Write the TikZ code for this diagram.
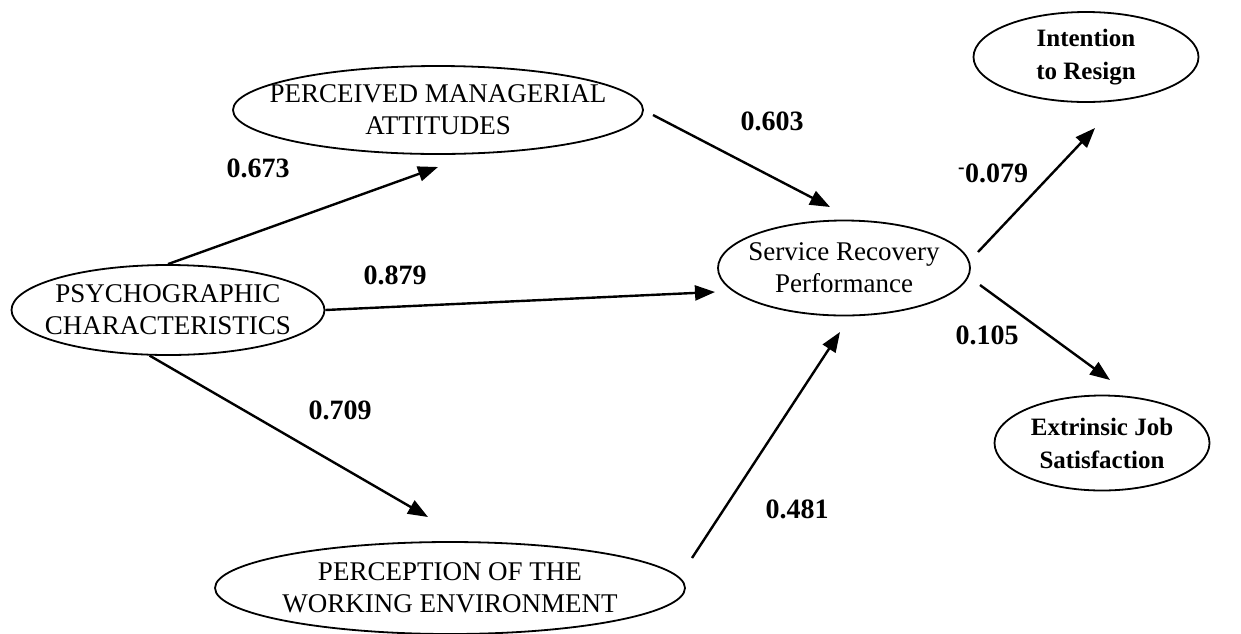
\documentclass[tikz,border=0pt]{standalone}
\usepackage{fontspec}
\setmainfont{Liberation Serif}
\usetikzlibrary{shapes.geometric,arrows.meta}

\tikzset{
  construct/.style={draw, ellipse, line width=1.8pt, align=center,
                    inner xsep=-40pt, inner ysep=-15pt,
                    font=\fontsize{27}{32}\selectfont},
  outcome/.style={construct, font=\bfseries\fontsize{25}{33}\selectfont},
  path/.style={line width=2.4pt, -{Triangle[length=20pt,width=15pt]}},
  coef/.style={font=\bfseries\fontsize{28}{30}\selectfont, inner sep=0pt}
}

\begin{document}
\begin{tikzpicture}[x=1pt,y=-1pt]
  % ------- frame -------
  \useasboundingbox (0,0) rectangle (1241,633);

  % ------- constructs -------
  \node[construct, minimum width=313pt, minimum height=90pt] (psy) at (168,310)
        {PSYCHOGRAPHIC\\CHARACTERISTICS};
  \node[construct, minimum width=410pt, minimum height=88pt] (pma) at (438,110)
        {PERCEIVED MANAGERIAL\\ATTITUDES};
  \node[construct, minimum width=470pt, minimum height=92pt] (pwe) at (450,588)
        {PERCEPTION OF THE\\WORKING ENVIRONMENT};
  \node[construct, minimum width=252pt, minimum height=95pt] (srp) at (844,268)
        {Service Recovery\\Performance};
  \node[outcome, minimum width=225pt, minimum height=90pt] (itr) at (1086,57)
        {Intention\\to Resign};
  \node[outcome, minimum width=215pt, minimum height=95pt] (ejs) at (1102,443)
        {Extrinsic Job\\Satisfaction};

  % ------- free ends of the paths -------
  \coordinate (pmaIn)  at (438,167);
  \coordinate (srpL)   at (715,292);
  \coordinate (pweIn)  at (428,517);
  \coordinate (pmaOut) at (653,115);
  \coordinate (srpT)   at (830,207);
  \coordinate (pweOut) at (692,558);
  \coordinate (srpB)   at (840,332);
  \coordinate (srpO1)  at (978,252);
  \coordinate (itrIn)  at (1095,128);
  \coordinate (srpO2)  at (980,285);
  \coordinate (ejsIn)  at (1110,380);

  % ------- paths -------
  \draw[path] (psy.north) -- (pmaIn);
  \draw[path] (psy.east)  -- (srpL);
  \draw[path] (psy.-112)  -- (pweIn);
  \draw[path] (pmaOut) -- (srpT);
  \draw[path] (pweOut) -- (srpB);
  \draw[path] (srpO1)  -- (itrIn);
  \draw[path] (srpO2)  -- (ejsIn);

  % ------- coefficients -------
  \node[coef] (c1) at (258,168) {0.673};
  \node[coef] (c2) at (395,275) {0.879};
  \node[coef] (c3) at (340,410) {0.709};
  \node[coef] (c4) at (772,121) {0.603};
  \node[coef] (c5) at (993,173) {\textsuperscript{-}0.079};
  \node[coef] (c6) at (987,335) {0.105};
  \node[coef] (c7) at (797,509) {0.481};
\end{tikzpicture}
\end{document}
